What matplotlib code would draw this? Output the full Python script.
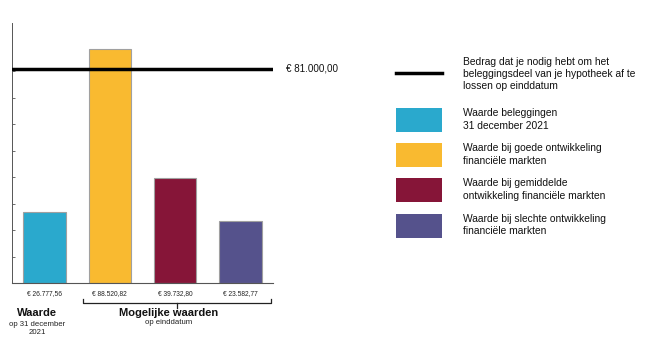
import matplotlib.pyplot as plt
from matplotlib.lines import Line2D
from matplotlib.patches import Rectangle

plt.rcParams['font.family'] = ['Liberation Sans', 'DejaVu Sans']

# ── Data ──────────────────────────────────────────────────────
waarden = [26777.56, 88520.82, 39732.80, 23582.77]
labels = ['€ 26.777,56', '€ 88.520,82', '€ 39.732,80', '€ 23.582,77']
kleuren = ['#2AA9CD', '#F9BA30', '#861538', '#55528C']
doelbedrag = 81000
doel_label = '€ 81.000,00'
legenda_teksten = [
    'Bedrag dat je nodig hebt om het\nbeleggingsdeel van je hypotheek af te\nlossen op einddatum',
    'Waarde beleggingen\n31 december 2021',
    'Waarde bij goede ontwikkeling\nfinanciële markten',
    'Waarde bij gemiddelde\nontwikkeling financiële markten',
    'Waarde bij slechte ontwikkeling\nfinanciële markten',
]

W, H = 646, 340
fig = plt.figure(figsize=(W / 100, H / 100), dpi=100)


def fx(px):
    return px / W


def fy(py):
    return 1 - py / H


ax = fig.add_axes([fx(12), fy(283.3), fx(261), (283.3 - 23) / H])

x = range(len(waarden))
ax.bar(x, waarden, width=0.65, color=kleuren, edgecolor='#A0A0A0', linewidth=0.8, zorder=2)
ax.axhline(doelbedrag, color='black', linewidth=2.5, zorder=3)

ax.set_xlim(-0.5, 3.5)
ax.set_ylim(0, 98200)
ax.set_yticks(range(10000, 90000, 10000))
ax.set_yticklabels([])
ax.set_xticks([])
ax.tick_params(axis='y', direction='in', length=2.5, width=0.6, color='#555555')
for s in ['top', 'right']:
    ax.spines[s].set_visible(False)
ax.spines['left'].set_color('#555555')
ax.spines['left'].set_linewidth(0.7)
ax.spines['bottom'].set_color('#555555')
ax.spines['bottom'].set_linewidth(0.8)

# waarde onder elke staaf
for i, lab in enumerate(labels):
    ax.text(i, -0.041, lab, transform=ax.get_xaxis_transform(),
            ha='center', va='center', fontsize=4.8, color='#222222')

ax.text(1.05, doelbedrag, doel_label, transform=ax.get_yaxis_transform(),
        ha='left', va='center', fontsize=7.1, color='#111111')

# accolade onder de mogelijke waarden
bk = dict(color='#222222', linewidth=0.9, transform=fig.transFigure)
fig.add_artist(Line2D([fx(83), fx(83), fx(271), fx(271)],
                      [fy(298.5), fy(302.7), fy(302.7), fy(298.5)], **bk))
fig.add_artist(Line2D([fx(177), fx(177)], [fy(302.7), fy(307.5)], **bk))

fig.text(fx(37), fy(313), 'Waarde', ha='center', va='center',
         fontsize=8, fontweight='bold', color='#111111')
fig.text(fx(37), fy(324), 'op 31 december', ha='center', va='center',
         fontsize=5.6, color='#222222')
fig.text(fx(37), fy(332.5), '2021', ha='center', va='center',
         fontsize=5.6, color='#222222')
fig.text(fx(169), fy(313), 'Mogelijke waarden', ha='center', va='center',
         fontsize=8, fontweight='bold', color='#111111')
fig.text(fx(169), fy(322), 'op einddatum', ha='center', va='center',
         fontsize=5.6, color='#222222')

# ── Legenda ───────────────────────────────────────────────────
fig.add_artist(Line2D([fx(396), fx(441.7)], [fy(73.3), fy(73.3)],
                      color='black', linewidth=2.5, transform=fig.transFigure))
fig.text(fx(462.5), fy(74), legenda_teksten[0], ha='left', va='center',
         fontsize=7.4, color='#111111', linespacing=1.28)

vakken = [(108.3, 131.7), (143.3, 166.7), (178.3, 201.7), (214, 237.7)]
for (top, bot), kleur, tekst in zip(vakken, kleuren, legenda_teksten[1:]):
    fig.add_artist(Rectangle((fx(396), fy(bot)), fx(45.7), (bot - top) / H,
                             facecolor=kleur, edgecolor='none',
                             transform=fig.transFigure))
    fig.text(fx(462.5), fy((top + bot) / 2 - 0.5), tekst, ha='left', va='center',
             fontsize=7.4, color='#111111', linespacing=1.28)

fig.savefig('out.png', dpi=100)
